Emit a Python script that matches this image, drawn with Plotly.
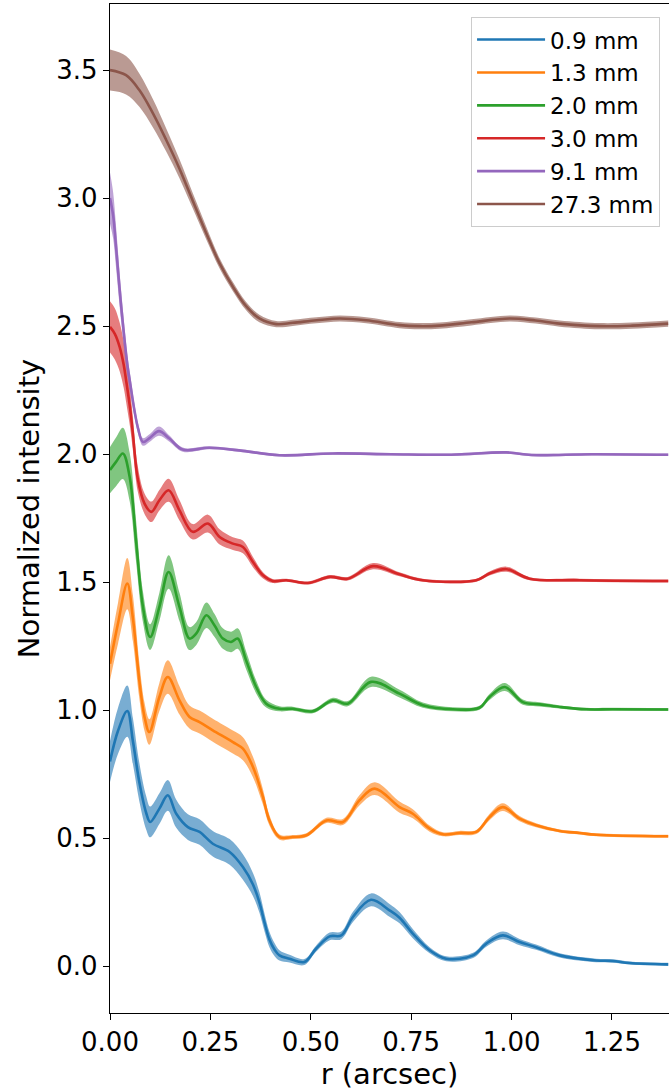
import plotly.graph_objects as go

# ---------------- data (normalized profiles; plotted with vertical offsets) ----------------
labels = ["0.9 mm", "1.3 mm", "2.0 mm", "3.0 mm", "9.1 mm", "27.3 mm"]
offsets = [0.0, 0.5, 1.0, 1.5, 2.0, 2.5]
colors = ["#1f77b4", "#ff7f0e", "#2ca02c", "#d62728", "#9467bd", "#8c564b"]

r_09 = [0.000, 0.020, 0.043, 0.057, 0.073, 0.090, 0.100, 0.123, 0.144, 0.165, 0.194, 0.223, 0.256,
        0.298, 0.331, 0.356, 0.372, 0.385, 0.397, 0.410, 0.422, 0.447, 0.484, 0.513, 0.547, 0.576,
        0.605, 0.650, 0.696, 0.721, 0.754, 0.796, 0.837, 0.904, 0.937, 0.978, 1.020, 1.061, 1.120,
        1.211, 1.252, 1.294, 1.390]
v_09 = [0.80, 0.92, 0.997, 0.88, 0.72, 0.60, 0.564, 0.616, 0.668, 0.596, 0.544, 0.525, 0.479,
        0.447, 0.388, 0.32, 0.25, 0.17, 0.105, 0.065, 0.043, 0.03, 0.017, 0.069, 0.117, 0.121,
        0.193, 0.26, 0.219, 0.19, 0.128, 0.063, 0.03, 0.043, 0.089, 0.121, 0.095, 0.075, 0.043,
        0.023, 0.021, 0.013, 0.008]
e_09 = [0.08, 0.09, 0.10, 0.09, 0.075, 0.065, 0.06, 0.06, 0.06, 0.055, 0.05, 0.05, 0.05,
        0.05, 0.05, 0.045, 0.04, 0.035, 0.03, 0.025, 0.02, 0.015, 0.012, 0.012, 0.015, 0.015,
        0.02, 0.025, 0.025, 0.022, 0.018, 0.012, 0.01, 0.01, 0.012, 0.015, 0.012, 0.01, 0.008,
        0.007, 0.007, 0.006, 0.006]

r_13 = [0.000, 0.020, 0.043, 0.057, 0.073, 0.086, 0.098, 0.123, 0.144, 0.173, 0.198, 0.223, 0.256,
        0.306, 0.331, 0.356, 0.381, 0.397, 0.422, 0.455, 0.489, 0.539, 0.580, 0.621, 0.659, 0.721,
        0.754, 0.796, 0.829, 0.870, 0.912, 0.945, 0.978, 1.020, 1.061, 1.120, 1.169, 1.211, 1.390]
v_13 = [0.682, 0.84, 0.995, 0.86, 0.617, 0.474, 0.415, 0.552, 0.63, 0.539, 0.474, 0.454, 0.422,
        0.376, 0.35, 0.279, 0.161, 0.07, 0.005, 0.005, 0.012, 0.07, 0.064, 0.148, 0.194, 0.122,
        0.096, 0.038, 0.016, 0.021, 0.025, 0.083, 0.122, 0.077, 0.051, 0.029, 0.021, 0.014, 0.008]
e_13 = [0.065, 0.08, 0.10, 0.09, 0.07, 0.055, 0.05, 0.055, 0.065, 0.055, 0.045, 0.045, 0.045,
        0.045, 0.045, 0.04, 0.03, 0.02, 0.01, 0.008, 0.008, 0.01, 0.012, 0.02, 0.025, 0.022,
        0.018, 0.012, 0.008, 0.008, 0.008, 0.012, 0.015, 0.01, 0.008, 0.006, 0.006, 0.006, 0.006]

r_20 = [0.000, 0.015, 0.032, 0.049, 0.065, 0.082, 0.100, 0.123, 0.146, 0.173, 0.198, 0.215, 0.240,
        0.260, 0.281, 0.302, 0.318, 0.339, 0.364, 0.389, 0.422, 0.455, 0.505, 0.555, 0.592, 0.650,
        0.721, 0.779, 0.854, 0.920, 0.945, 0.983, 1.028, 1.070, 1.120, 1.186, 1.252, 1.390]
v_20 = [0.938, 0.97, 1.003, 0.911, 0.66, 0.404, 0.286, 0.404, 0.54, 0.404, 0.28, 0.30, 0.371,
        0.332, 0.28, 0.267, 0.28, 0.195, 0.091, 0.026, 0.006, 0.006, -0.004, 0.039, 0.026, 0.111,
        0.065, 0.02, 0.004, 0.01, 0.052, 0.091, 0.032, 0.023, 0.013, 0.004, 0.004, 0.003]
e_20 = [0.09, 0.095, 0.10, 0.095, 0.08, 0.06, 0.05, 0.055, 0.065, 0.055, 0.045, 0.045, 0.05,
        0.045, 0.04, 0.04, 0.04, 0.035, 0.025, 0.015, 0.01, 0.008, 0.008, 0.01, 0.01, 0.02,
        0.015, 0.01, 0.008, 0.008, 0.012, 0.016, 0.01, 0.008, 0.006, 0.006, 0.006, 0.006]

r_30 = [0.000, 0.012, 0.024, 0.034, 0.040, 0.050, 0.057, 0.069, 0.086, 0.103, 0.123, 0.146, 0.173,
        0.206, 0.244, 0.273, 0.306, 0.331, 0.356, 0.381, 0.405, 0.439, 0.493, 0.547, 0.592, 0.655,
        0.721, 0.779, 0.912, 0.945, 0.987, 1.045, 1.169, 1.390]
v_30 = [0.997, 0.97, 0.919, 0.85, 0.79, 0.68, 0.58, 0.405, 0.307, 0.275, 0.32, 0.359, 0.281,
        0.197, 0.229, 0.177, 0.151, 0.138, 0.079, 0.027, 0.005, 0.008, -0.003, 0.021, 0.014, 0.063,
        0.031, 0.008, 0.008, 0.034, 0.051, 0.014, 0.008, 0.005]
e_30 = [0.10, 0.10, 0.095, 0.09, 0.085, 0.075, 0.065, 0.05, 0.04, 0.04, 0.04, 0.045, 0.04,
        0.03, 0.035, 0.03, 0.025, 0.025, 0.02, 0.012, 0.008, 0.006, 0.006, 0.007, 0.007, 0.012,
        0.008, 0.006, 0.006, 0.008, 0.01, 0.006, 0.006, 0.006]

r_91 = [0.000, 0.008, 0.015, 0.028, 0.044, 0.049, 0.061, 0.070, 0.082, 0.100, 0.122, 0.148, 0.181,
        0.248, 0.331, 0.422, 0.555, 0.700, 0.850, 0.987, 1.050, 1.200, 1.390]
v_91 = [1.0, 0.93, 0.81, 0.575, 0.34, 0.29, 0.17, 0.10, 0.048, 0.065, 0.09, 0.061, 0.018,
        0.025, 0.013, -0.004, 0.003, 0.0, -0.002, 0.007, -0.003, 0.0, -0.002]
e_91 = [0.10, 0.09, 0.08, 0.06, 0.04, 0.035, 0.025, 0.02, 0.015, 0.015, 0.018, 0.012, 0.008,
        0.006, 0.005, 0.005, 0.005, 0.005, 0.005, 0.005, 0.005, 0.005, 0.005]

r_273 = [0.000, 0.040, 0.073, 0.107, 0.140, 0.173, 0.206, 0.240, 0.273, 0.306, 0.339, 0.372, 0.414,
         0.455, 0.514, 0.572, 0.638, 0.721, 0.771, 0.820, 0.900, 0.995, 1.060, 1.120, 1.220, 1.300,
         1.390]
v_273 = [1.0, 0.98, 0.922, 0.831, 0.727, 0.615, 0.49, 0.362, 0.245, 0.154, 0.078, 0.03, 0.008,
         0.013, 0.023, 0.03, 0.023, 0.004, 0.0, 0.002, 0.015, 0.03, 0.022, 0.01, 0.0, 0.002, 0.01]
e_273 = [0.08, 0.075, 0.065, 0.055, 0.045, 0.037, 0.03, 0.025, 0.02, 0.018, 0.016, 0.015, 0.012,
         0.012, 0.012, 0.012, 0.012, 0.012, 0.012, 0.012, 0.012, 0.012, 0.012, 0.012, 0.012, 0.012,
         0.012]

x_ticks = [0.0, 0.25, 0.5, 0.75, 1.0, 1.25]
y_ticks = [0.0, 0.5, 1.0, 1.5, 2.0, 2.5, 3.0, 3.5]

series = [(r_09, v_09, e_09), (r_13, v_13, e_13), (r_20, v_20, e_20),
          (r_30, v_30, e_30), (r_91, v_91, e_91), (r_273, v_273, e_273)]


def rgba(hexc, a):
    h = hexc.lstrip("#")
    return f"rgba({int(h[0:2],16)},{int(h[2:4],16)},{int(h[4:6],16)},{a})"


FONT = "DejaVu Sans"
SM = 1.0
fig = go.Figure()
for (r, v, e), off, lab, col in zip(series, offsets, labels, colors):
    y = [vi + off for vi in v]
    lo = [yi - ei for yi, ei in zip(y, e)]
    hi = [yi + ei for yi, ei in zip(y, e)]
    fig.add_trace(go.Scatter(x=r, y=lo, mode="lines", line=dict(width=0, shape="spline", smoothing=SM, color=col),
                             showlegend=False, hoverinfo="skip", legendgroup=lab))
    fig.add_trace(go.Scatter(x=r, y=hi, mode="lines", line=dict(width=0, shape="spline", smoothing=SM, color=col),
                             fill="tonexty", fillcolor=rgba(col, 0.6), showlegend=False, hoverinfo="skip",
                             legendgroup=lab))
    fig.add_trace(go.Scatter(x=r, y=y, mode="lines", name=lab, legendgroup=lab,
                             line=dict(color=col, width=2.6, shape="spline", smoothing=SM)))

fig.update_layout(
    width=669, height=1091,
    margin=dict(l=110, r=0, t=4, b=78),
    paper_bgcolor="white", plot_bgcolor="white",
    font=dict(family=FONT, size=26, color="black"),
    legend=dict(x=0.984, y=0.987, xanchor="right", yanchor="top",
                traceorder="normal", tracegroupgap=6, itemwidth=68,
                bgcolor="rgba(255,255,255,0.8)", bordercolor="#cccccc", borderwidth=1,
                font=dict(family=FONT, size=23, color="black")),
    showlegend=True,
)
fig.update_xaxes(range=[0, 1.392], tickvals=x_ticks, tickformat=".2f",
                 showline=True, linecolor="black", linewidth=1.3, mirror=True,
                 ticks="outside", ticklen=6, tickwidth=1.3, tickcolor="black",
                 showgrid=False, zeroline=False,
                 title=dict(text="r (arcsec)", font=dict(family=FONT, size=29), standoff=6),
                 tickfont=dict(family=FONT, size=26))
fig.update_yaxes(range=[-0.182, 3.758], tickvals=y_ticks, tickformat=".1f",
                 showline=True, linecolor="black", linewidth=1.3,
                 ticks="outside", ticklen=6, tickwidth=1.3, tickcolor="black",
                 showgrid=False, zeroline=False,
                 title=dict(text="Normalized intensity", font=dict(family=FONT, size=29), standoff=8),
                 tickfont=dict(family=FONT, size=26))

fig.write_html("out.html")
